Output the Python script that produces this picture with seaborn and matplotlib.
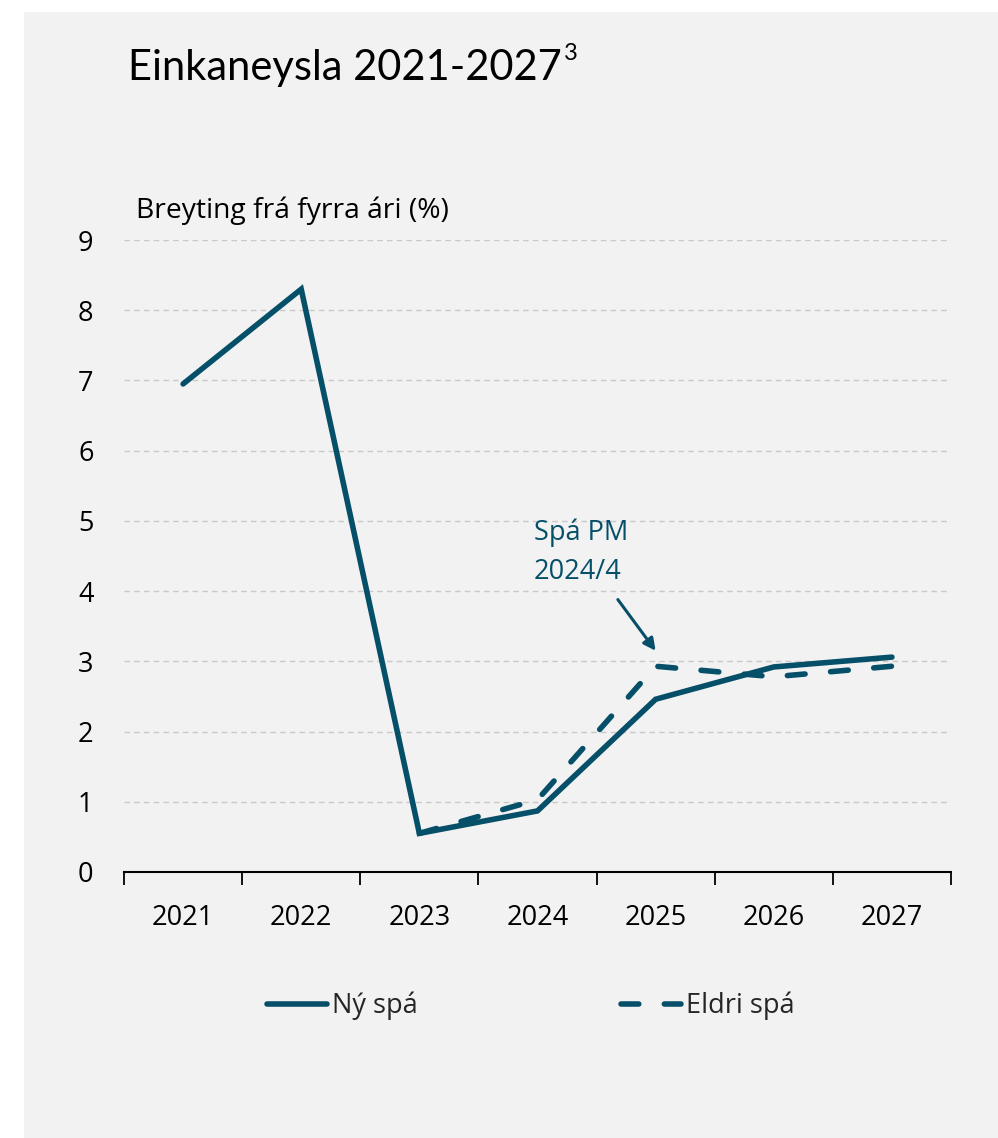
import matplotlib
matplotlib.use("Agg")
import matplotlib.pyplot as plt
from matplotlib.patches import Rectangle
from matplotlib.lines import Line2D
import numpy as np
import pandas as pd
import seaborn as sns

# ---- data ----
years = [2021, 2022, 2023, 2024, 2025, 2026, 2027]
ny_spa = [6.95, 8.30, 0.55, 0.87, 2.46, 2.92, 3.06]
eldri_spa = [np.nan, np.nan, 0.55, 1.03, 2.93, 2.78, 2.93]
series_names = ["Ný spá", "Eldri spá"]
yticks = [0, 1, 2, 3, 4, 5, 6, 7, 8, 9]
title_text = "Einkaneysla 2021-2027"
title_sup = "3"
ylabel_text = "Breyting frá fyrra ári (%)"
annot_text = "Spá PM\n2024/4"

LINE = "#064f69"
BG = "#f2f2f2"
FS = 19.5
LW = 4.0
DASH = (3.2, 4.6)

df = pd.DataFrame({
    "Ár": years * 2,
    "Gildi": ny_spa + eldri_spa,
    "Röð": [series_names[0]] * len(years) + [series_names[1]] * len(years),
}).dropna()

sns.set_theme(style="white")
plt.rcParams["font.family"] = ["Open Sans", "DejaVu Sans"]

W, H = 998, 1138
fig = plt.figure(figsize=(W / 100, H / 100), dpi=100)
fig.patch.set_facecolor("white")
fig.patches.append(Rectangle((24 / W, 0), 1 - 24 / W, 1 - 12 / H,
                             transform=fig.transFigure, facecolor=BG,
                             edgecolor="none", zorder=-10))

ax = fig.add_axes([124 / W, 1 - 872 / H, (951 - 124) / W, (872 - 240) / H])
ax.set_facecolor(BG)
ax.patch.set_alpha(0)

sns.lineplot(data=df, x="Ár", y="Gildi", hue="Röð", style="Röð",
             palette={series_names[0]: LINE, series_names[1]: LINE},
             dashes={series_names[0]: "", series_names[1]: DASH},
             linewidth=LW, ax=ax, legend=False, sort=False)
for ln in ax.lines:
    ln.set_solid_capstyle("round")
    ln.set_dash_capstyle("round")
    ln.set_solid_joinstyle("miter")

ax.set_xlim(years[0] - 0.5, years[-1] + 0.5)
ax.set_ylim(0, 9)
ax.set_yticks(yticks)
ax.set_yticklabels([str(v) for v in yticks])
ax.set_xticks(years)
ax.set_xticklabels([str(y) for y in years])
ax.set_xticks([y - 0.5 for y in years] + [years[-1] + 0.5], minor=True)
ax.tick_params(axis="x", which="major", bottom=False, length=0, pad=23, labelsize=FS, colors="black")
ax.tick_params(axis="x", which="minor", bottom=True, length=9, width=1.3, direction="out", color="black")
ax.tick_params(axis="y", left=False, length=0, pad=22, labelsize=FS, colors="black")
ax.set_xlabel("")
ax.set_ylabel("")

ax.grid(axis="y", color="#c9c9c9", linestyle=(0, (4, 3)), linewidth=1)
ax.set_axisbelow(True)
for s in ["left", "right", "top"]:
    ax.spines[s].set_visible(False)
ax.spines["bottom"].set_color("black")
ax.spines["bottom"].set_linewidth(1.5)
ax.spines["bottom"].set_zorder(1)

# y-axis label
fig.text(136 / W, 1 - 211 / H, ylabel_text, fontsize=20.3, ha="left", va="center", color="black")

# title with superscript
t = fig.text(128 / W, 1 - 80 / H, title_text, fontsize=30, ha="left", va="baseline",
             color="black", family=["Lato", "DejaVu Sans"])
fig.canvas.draw()
bb = t.get_window_extent()
fig.text((bb.x1 + 2) / W, 1 - 60 / H, title_sup, fontsize=17, ha="left", va="baseline",
         color="black", family=["Lato", "DejaVu Sans"])

# annotation
ax.text(2023.97, 4.55, annot_text, fontsize=FS, color=LINE, ha="left", va="center", linespacing=1.5)
ax.annotate("", xy=(2025.0, 3.15), xytext=(2024.68, 3.88),
            arrowprops=dict(arrowstyle="-|>", color=LINE, lw=2.2, mutation_scale=18,
                            shrinkA=0, shrinkB=0))

# legend
handles = [
    Line2D([0], [0], color=LINE, lw=LW, solid_capstyle="round"),
    Line2D([0], [0], color=LINE, lw=LW, dashes=DASH, dash_capstyle="round"),
]
fig.legend(handles, series_names, loc="center", bbox_to_anchor=(531 / W, 1 - 1006 / H),
           ncol=2, frameon=False, fontsize=FS, handlelength=2.2, handletextpad=0.2,
           columnspacing=7.5)

fig.savefig("out.png", dpi=100, facecolor="white")
